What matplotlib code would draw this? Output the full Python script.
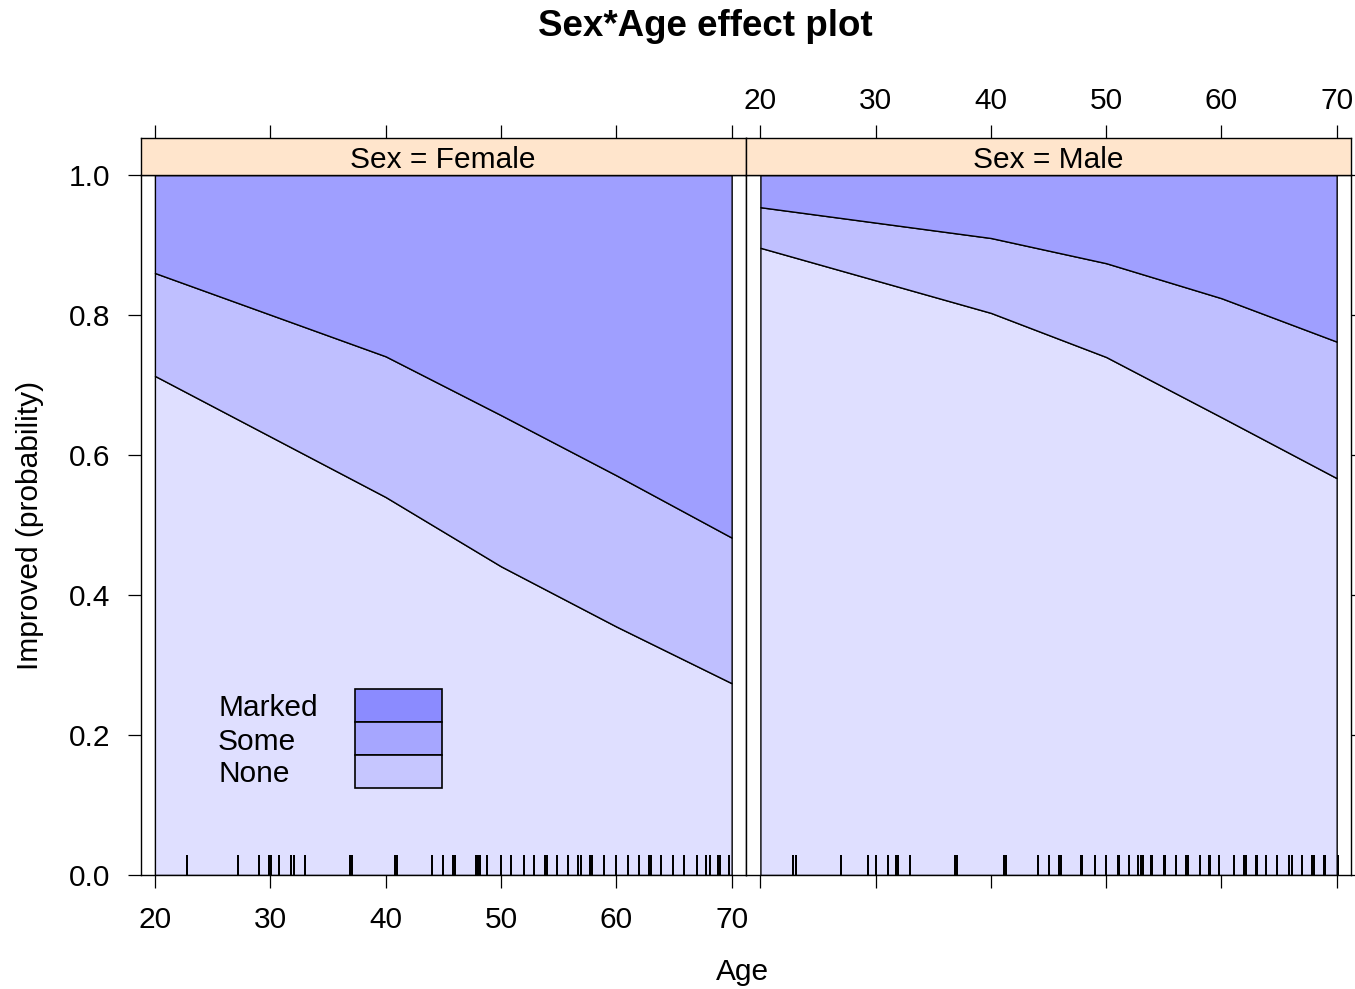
import matplotlib
matplotlib.use("Agg")
import matplotlib.pyplot as plt
from matplotlib.patches import Rectangle

plt.rcParams['font.family'] = ['Liberation Sans', 'DejaVu Sans']

# Fitted cumulative probabilities at the evaluated ages
age_levels = [20, 40, 50, 60, 70]
female_none = [0.713, 0.540, 0.441, 0.355, 0.274]
female_none_some = [0.860, 0.741, 0.657, 0.571, 0.482]
male_none = [0.896, 0.803, 0.740, 0.654, 0.567]
male_none_some = [0.954, 0.910, 0.874, 0.824, 0.762]

# Observed ages (rug)
female_ages = [22.8, 27.2, 29.0, 29.9, 30.1, 30.8, 31.8, 32.1, 33.0, 36.9, 37.1,
               40.8, 41.0, 44.0, 45.0, 45.8, 46.0, 47.8, 48.0, 48.2, 48.8, 50.0,
               50.9, 52.0, 52.9, 53.8, 54.0, 54.9, 55.8, 56.7, 56.9, 57.7, 57.9,
               58.9, 60.0, 61.0, 62.0, 62.8, 63.0, 63.9, 64.9, 65.9, 67.0, 67.8,
               68.1, 68.8, 69.0, 69.8]
male_ages = [22.8, 23.1, 27.0, 29.3, 30.0, 31.1, 31.8, 31.9, 33.0, 36.9, 37.1,
             41.1, 41.3, 44.1, 45.0, 45.9, 46.1, 47.8, 47.9, 49.0, 50.0, 51.0,
             51.1, 52.0, 52.8, 53.0, 53.2, 53.9, 54.0, 55.0, 55.1, 56.1, 56.9,
             57.1, 58.1, 58.9, 59.0, 59.8, 61.1, 62.0, 62.1, 63.0, 63.1, 63.9,
             64.8, 65.9, 66.1, 67.0, 67.9, 68.0, 68.9, 69.0, 70.1]

categories = ['Marked', 'Some', 'None']
fill_colors = {'Marked': '#9f9fff', 'Some': '#bfbfff', 'None': '#dfdfff'}
key_colors = {'Marked': '#8b8bff', 'Some': '#a6a6ff', 'None': '#c6c6ff'}
panels = [('Sex = Female', female_none, female_none_some, female_ages),
          ('Sex = Male', male_none, male_none_some, male_ages)]
age_ticks = [20, 30, 40, 50, 60, 70]
prob_ticks = [0.0, 0.2, 0.4, 0.6, 0.8, 1.0]

W, H = 1355, 989
fig = plt.figure(figsize=(W / 100, H / 100), dpi=100)

def fbox(x0, y0, x1, y1):
    return [x0 / W, 1 - y1 / H, (x1 - x0) / W, (y1 - y0) / H]

FS = 21.5
tick_len = 9.5
tick_w = 0.9
xlim = (18.75, 71.2)
panel_x = [(140.5, 745.5), (746, 1350.5)]

for i, (label, none_c, some_c, ages) in enumerate(panels):
    x0, x1 = panel_x[i]
    ax = fig.add_axes(fbox(x0, 175, x1, 875))
    ax.set_xlim(*xlim)
    ax.set_ylim(0, 1)
    lo = [0.0] * len(age_levels)
    hi = [1.0] * len(age_levels)
    ax.fill_between(age_levels, lo, none_c, facecolor=fill_colors['None'],
                    edgecolor='black', linewidth=1.0, zorder=1)
    ax.fill_between(age_levels, none_c, some_c, facecolor=fill_colors['Some'],
                    edgecolor='black', linewidth=1.0, zorder=1)
    ax.fill_between(age_levels, some_c, hi, facecolor=fill_colors['Marked'],
                    edgecolor='black', linewidth=1.0, zorder=1)
    ax.vlines(ages, 0, 0.028, color='black', linewidth=1.4, zorder=2,
              antialiased=False)
    for s in ax.spines.values():
        s.set_linewidth(1.0)
        s.set_zorder(3)

    ax.set_xticks(age_ticks)
    ax.set_yticks(prob_ticks)
    ax.tick_params(axis='both', direction='out', length=tick_len, width=tick_w,
                   labelsize=FS)
    ax.tick_params(axis='x', pad=13)
    ax.tick_params(axis='y', pad=12)
    if i == 0:
        ax.set_yticklabels([f'{v:.1f}' for v in prob_ticks])
        ax.set_xticklabels([str(v) for v in age_ticks])
    else:
        ax.yaxis.tick_right()
        ax.set_yticklabels([])
        ax.set_xticklabels([])

    # strip with the panel label and top ticks
    sx = fig.add_axes(fbox(x0, 138, x1, 175))
    sx.set_facecolor('#ffe5cc')
    sx.set_xlim(*xlim)
    sx.set_yticks([])
    sx.xaxis.tick_top()
    sx.set_xticks(age_ticks)
    sx.tick_params(axis='x', direction='out', length=tick_len, width=tick_w,
                   labelsize=FS, pad=7)
    if i == 0:
        sx.set_xticklabels([])
    else:
        sx.set_xticklabels([str(v) for v in age_ticks])
    for s in sx.spines.values():
        s.set_linewidth(1.0)
    sx.text(0.5, 0.4, label, transform=sx.transAxes, ha='center', va='center',
            fontsize=FS)

# key inside the first panel
key_top = 689
key_h = 33
for j, cat in enumerate(categories):
    yt = key_top + j * key_h
    fig.add_artist(Rectangle((355 / W, 1 - (yt + key_h) / H), 87 / W, key_h / H,
                             transform=fig.transFigure, facecolor=key_colors[cat],
                             edgecolor='black', linewidth=1.2, zorder=5))
    fig.text(218 / W, 1 - (yt + key_h / 2 + 3) / H, cat, ha='left', va='center',
             fontsize=FS, zorder=5)

fig.text(705 / W, 1 - 27 / H, 'Sex*Age effect plot', ha='center', va='center',
         fontsize=26.5, fontweight='bold')
fig.text(743 / W, 1 - 972 / H, 'Age', ha='center', va='center', fontsize=FS)
fig.text(30 / W, 1 - 525 / H, 'Improved (probability)', ha='center', va='center',
         rotation=90, fontsize=FS)

fig.savefig('out.png', dpi=100)
